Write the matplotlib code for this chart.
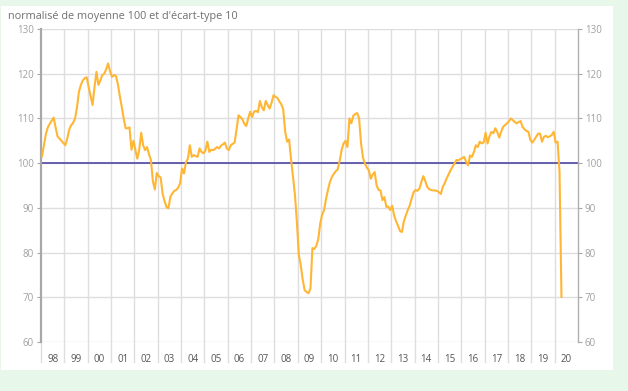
import matplotlib
matplotlib.use("Agg")
import matplotlib.pyplot as plt
import matplotlib.patches as patches
import numpy as np

plt.rcParams["font.family"] = ["Open Sans", "DejaVu Sans"]

# monthly values, Jan 1998 - Apr 2020
values_by_year = {
    1998: [101.5, 104, 106.5, 108, 108.8, 109.5, 110.2, 108, 106, 105.5, 105, 104.5],
    1999: [104, 105.5, 107.5, 108.5, 109, 110, 112.5, 116, 117.5, 118.5, 119, 119.2],
    2000: [117, 115, 113, 117, 120.4, 117.5, 118.5, 119.7, 120, 121, 122.3, 120.5],
    2001: [119.3, 119.7, 119.5, 117.7, 115, 112.6, 110, 107.8, 107.8, 108, 103, 105],
    2002: [103, 101, 103, 106.8, 104, 102.9, 103.6, 102, 100.7, 96, 94.1, 97.8],
    2003: [97.1, 96.8, 93.2, 91.5, 90.2, 89.9, 92.5, 93.2, 93.8, 94, 94.5, 95.5],
    2004: [98.8, 97.7, 100.2, 101, 104, 101.4, 101.8, 101.6, 101.4, 103.3, 102.5, 102.2],
    2005: [102.8, 104.8, 102.5, 103, 102.9, 103.2, 103.6, 103.3, 103.9, 104.2, 104.6, 103.3],
    2006: [102.9, 104, 104.3, 104.6, 107.5, 110.7, 110.3, 109.8, 108.8, 108.3, 110, 111.5],
    2007: [110.3, 111.5, 111.7, 111.4, 113.9, 112.5, 111.8, 113.9, 113, 112.2, 113.5, 115.2],
    2008: [114.8, 114.6, 113.8, 113.2, 112, 107, 104.8, 105.3, 101, 97, 93, 87],
    2009: [79.5, 77.2, 74, 71.6, 71.2, 70.9, 72, 81, 80.8, 81.5, 83, 86.5],
    2010: [88.5, 89.5, 92, 94, 95.8, 96.9, 97.6, 98.2, 98.6, 100.5, 102.9, 104.4],
    2011: [105, 103.6, 110, 108.9, 110.6, 111, 111.2, 110, 104.4, 101.2, 99.9, 99],
    2012: [98.4, 96.5, 97.5, 98, 95, 94, 93.9, 91.7, 92.4, 90.2, 90.3, 89.5],
    2013: [90.5, 88.3, 87, 86, 84.8, 84.6, 87, 88.3, 89.5, 90.5, 92.1, 93.5],
    2014: [94, 93.8, 94.3, 95.8, 97.1, 96, 94.7, 94.2, 94, 93.9, 93.9, 93.8],
    2015: [93.5, 93.1, 94.7, 95.5, 96.6, 97.5, 98.4, 99.2, 99.9, 100.7, 100.6, 100.9],
    2016: [101.1, 101.4, 100.3, 99.5, 101.7, 101.4, 102.5, 104, 103.6, 104.8, 104.4, 104.6],
    2017: [106.8, 104.4, 106, 107, 106.7, 107.8, 107, 105.7, 107, 108.1, 108.5, 108.9],
    2018: [109.4, 110, 109.6, 109.2, 108.9, 109.2, 109.4, 108.1, 107.6, 107.2, 107, 105.2],
    2019: [104.6, 105.2, 105.9, 106.6, 106.6, 104.8, 105.9, 106.1, 105.8, 106, 106.3, 107],
    2020: [104.6, 104.8, 98, 70.1],
}
years = list(range(1998, 2021))
year_labels = ["98", "99", "00", "01", "02", "03", "04", "05", "06", "07", "08",
               "09", "10", "11", "12", "13", "14", "15", "16", "17", "18", "19", "20"]
y_ticks = [60, 70, 80, 90, 100, 110, 120, 130]
mean_level = 100

values = np.concatenate([values_by_year[y] for y in years])
dates = 1998 + (np.arange(len(values)) + 0.5) / 12

fig = plt.figure(figsize=(6.28, 3.91), dpi=100)
fig.patch.set_facecolor("#e7f8ea")
fig.add_artist(patches.Rectangle((1 / 628, 1 - 370 / 391), 612 / 628, 364 / 391,
                                 transform=fig.transFigure, facecolor="white",
                                 edgecolor="none", zorder=0))

ax = fig.add_axes([41 / 628, 1 - 342 / 391, 537 / 628, 313 / 391])
ax.set_facecolor("none")
ax.set_xlim(1998, 2021)
ax.set_ylim(60, 130)

grid_col = "#dedede"
for yv in y_ticks:
    ax.axhline(yv, color=grid_col, lw=1, zorder=1)
for yr in range(1999, 2021):
    ax.axvline(yr, color=grid_col, lw=1, zorder=1)
    # separator below axis
    ax.plot([yr, yr], [60, 60 - 20 / 4.47], color=grid_col, lw=1,
            clip_on=False, zorder=1)
ax.plot([1998, 1998], [60, 60 - 20 / 4.47], color=grid_col, lw=1, clip_on=False)

ax.axhline(mean_level, color="#5a55a8", lw=1.3, zorder=2)
ax.plot(dates, values, color="#ffb634", lw=1.5, zorder=3)

for s in ["top", "bottom"]:
    ax.spines[s].set_visible(False)
ax.spines["left"].set_color("#a8a8a8")
ax.spines["left"].set_linewidth(1.6)
ax.spines["right"].set_color("#b0b0b0")
ax.spines["right"].set_linewidth(1.0)

ax.set_yticks(y_ticks)
ax.set_yticklabels([str(v) for v in y_ticks])
ax.tick_params(axis="y", which="both", length=3, color="#a8a8a8",
               labelsize=7, labelcolor="#a0a0a0", pad=2,
               right=True, labelright=True)

ax.set_xticks([yr + 0.5 for yr in years])
ax.set_xticklabels(year_labels)
ax.tick_params(axis="x", length=0, labelsize=7, labelcolor="#555555", pad=9)

fig.text(8 / 628, 1 - 17 / 391, "normalisé de moyenne 100 et d'écart-type 10",
         fontsize=7.8, color="#707070", va="center", ha="left")

fig.savefig("out.png", dpi=100, facecolor=fig.get_facecolor())
